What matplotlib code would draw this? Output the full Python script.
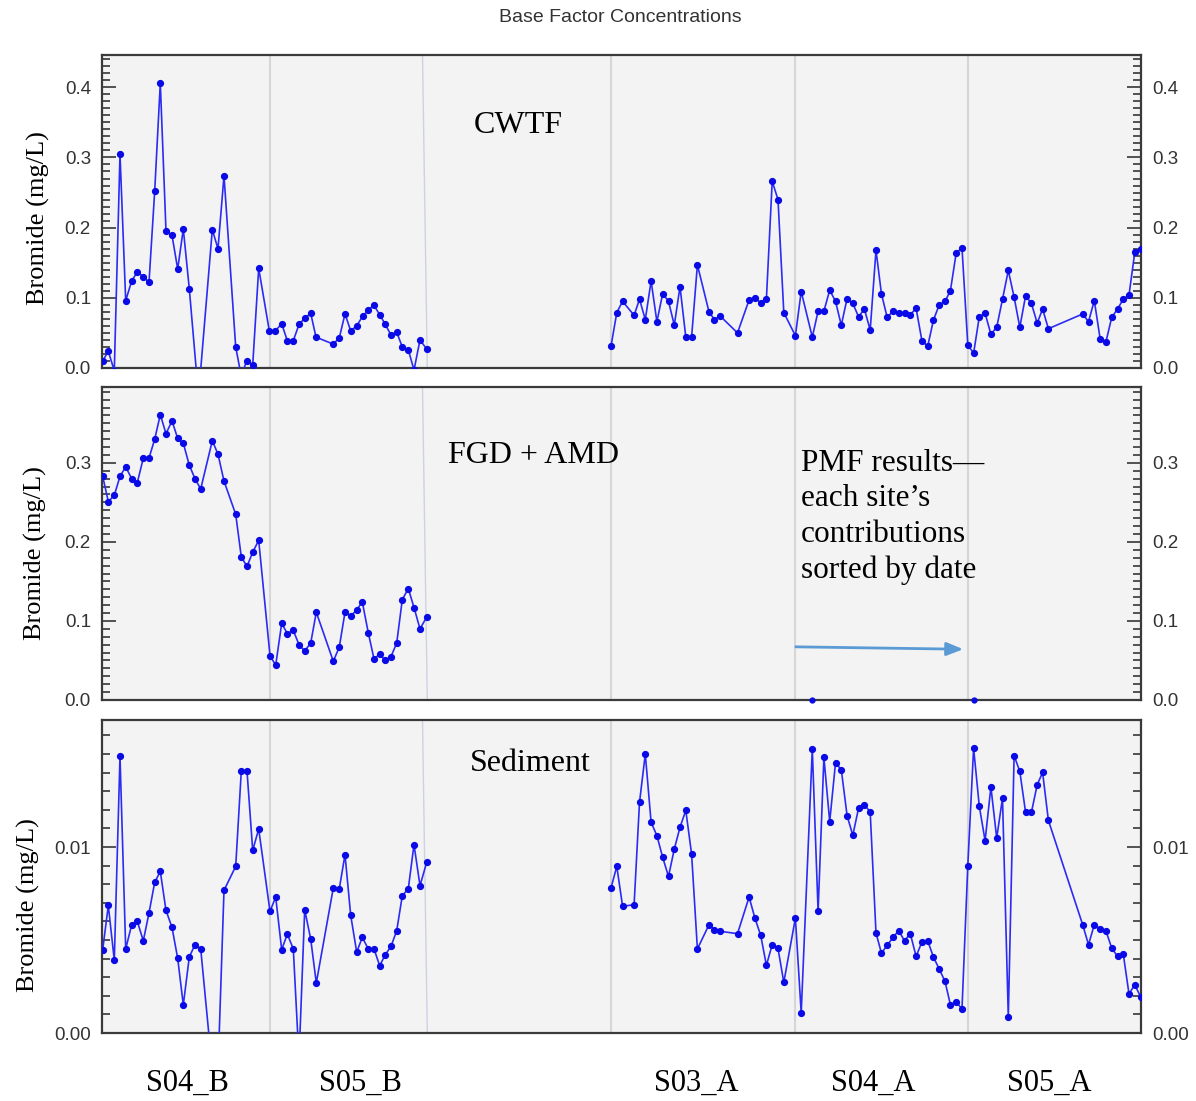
import numpy as np
import matplotlib.pyplot as plt
from matplotlib.ticker import MultipleLocator, FormatStrFormatter

# sample positions (along the date-sorted axis) and factor values, mg/L
# "_B" sites (S04_B, S05_B) -- left block
pos_b_cwtf = [102.7, 108.3, 114.3, 120.0, 125.7, 131.7, 137.3, 143.3, 149.0, 154.7,
              160.3, 166.0, 172.0, 177.7, 183.3, 189.3, 198.5, 212.3, 218.0, 224.0,
              235.7, 241.3, 246.7, 252.7, 258.7, 269.3, 275.3, 281.7, 287.3, 293.3,
              299.0, 304.7, 310.7, 316.0, 333.3, 339.3, 345.0, 350.7, 356.7, 362.7,
              368.3, 373.7, 379.7, 385.3, 391.0, 396.7, 402.3, 408.3, 414.0, 420.0, 426.7]
cwtf_b = [0.010, 0.024, -0.004, 0.305, 0.096, 0.124, 0.137, 0.130, 0.122, 0.252,
          0.406, 0.195, 0.189, 0.141, 0.198, 0.113, -0.040, 0.197, 0.170, 0.274,
          0.030, -0.012, 0.0105, 0.004, 0.142, 0.053, 0.053, 0.063, 0.039, 0.039,
          0.062, 0.071, 0.078, 0.044, 0.034, 0.043, 0.077, 0.053, 0.060, 0.074,
          0.082, 0.090, 0.076, 0.062, 0.047, 0.051, 0.030, 0.026, -0.003, 0.040, 0.027]

pos_b = [102.7, 108.3, 114.3, 120.0, 125.7, 131.7, 137.3, 143.3, 149.0, 154.7,
         160.3, 166.0, 172.0, 177.7, 183.3, 189.3, 195.0, 200.7, 212.3, 218.0,
         224.0, 235.7, 241.3, 247.0, 252.7, 258.7, 270.0, 275.7, 281.7, 287.3,
         293.3, 299.0, 304.7, 310.7, 316.3, 333.3, 339.3, 345.0, 350.7, 356.7,
         362.3, 368.3, 374.0, 379.7, 385.3, 391.0, 396.7, 402.3, 408.3, 414.0, 420.0, 426.7]
fgd_b = [0.283, 0.251, 0.259, 0.283, 0.295, 0.280, 0.275, 0.306, 0.306, 0.330,
         0.361, 0.337, 0.353, 0.331, 0.325, 0.297, 0.280, 0.267, 0.328, 0.311,
         0.277, 0.235, 0.181, 0.169, 0.187, 0.202, 0.056, 0.044, 0.097, 0.084,
         0.088, 0.070, 0.062, 0.072, 0.111, 0.049, 0.067, 0.111, 0.106, 0.114,
         0.124, 0.085, 0.052, 0.058, 0.050, 0.055, 0.072, 0.127, 0.141, 0.117, 0.090, 0.105]
sed_b = [0.00448, 0.00686, 0.00391, 0.01487, 0.00452, 0.00582, 0.00600, 0.00496, 0.00645, 0.00810,
         0.00869, 0.00659, 0.00568, 0.00401, 0.00151, 0.00409, 0.00475, 0.00453, -0.0020, -0.0020,
         0.00767, 0.00896, 0.01409, 0.01409, 0.00982, 0.01097, 0.00654, 0.00731, 0.00448, 0.00532,
         0.00452, -0.0014, 0.00663, 0.00505, 0.00269, 0.00780, 0.00776, 0.00959, 0.00633, 0.00435,
         0.00514, 0.00452, 0.00452, 0.00362, 0.00421, 0.00466, 0.00550, 0.00738, 0.00776, 0.01013,
         0.00792, 0.00918]

# "_A" sites (S03_A, S04_A, S05_A) -- right block
pos_a = [611.0, 616.8, 622.6, 634.1, 639.5, 645.3, 651.1, 656.9, 662.7, 668.5,
         674.3, 680.0, 685.8, 691.6, 697.4, 709.0, 714.4, 720.2, 737.5, 749.1,
         754.9, 760.7, 766.4, 772.2, 778.0, 783.8, 795.4, 801.2, 812.3, 818.1,
         823.9, 829.7, 835.5, 841.3, 847.1, 852.8, 858.6, 864.4, 870.2, 876.0,
         881.4, 887.2, 893.0, 898.7, 904.5, 910.3, 916.1, 921.9, 927.7, 933.4,
         939.2, 945.0, 950.4, 956.2, 962.0, 967.8, 973.6, 979.3, 985.1, 990.9,
         996.7, 1002.5, 1008.3, 1014.1, 1019.8, 1025.6, 1031.4, 1037.2, 1042.6, 1048.4,
         1082.7, 1088.5, 1094.3, 1100.1, 1105.9, 1111.7, 1117.5, 1123.2, 1129.0, 1134.8, 1140.6]
cwtf_a = [0.031, 0.079, 0.095, 0.075, 0.098, 0.069, 0.124, 0.066, 0.106, 0.095,
          0.061, 0.116, 0.044, 0.044, 0.147, 0.080, 0.069, 0.074, 0.050, 0.097,
          0.100, 0.093, 0.098, 0.266, 0.240, 0.079, 0.046, 0.109, 0.044, 0.081,
          0.081, 0.111, 0.095, 0.061, 0.099, 0.092, 0.073, 0.084, 0.054, 0.168,
          0.106, 0.072, 0.081, 0.078, 0.078, 0.076, 0.085, 0.039, 0.031, 0.068,
          0.090, 0.095, 0.110, 0.164, 0.171, 0.033, 0.021, 0.073, 0.078, 0.048,
          0.058, 0.098, 0.139, 0.101, 0.058, 0.103, 0.092, 0.064, 0.084, 0.056,
          0.077, 0.066, 0.096, 0.042, 0.037, 0.072, 0.084, 0.098, 0.104, 0.165, 0.169]
sed_a = [0.00780, 0.00896, 0.00681, 0.00690, 0.01240, 0.01500, 0.01133, 0.01061, 0.00944, 0.00842,
         0.00989, 0.01106, 0.01197, 0.00962, 0.00452, 0.00582, 0.00556, 0.00547, 0.00534, 0.00731,
         0.00618, 0.00525, 0.00364, 0.00475, 0.00455, 0.00272, 0.00618, 0.00108, 0.01527, 0.00654,
         0.01482, 0.01136, 0.01452, 0.01416, 0.01168, 0.01063, 0.01210, 0.01228, 0.01188, 0.00538,
         0.00430, 0.00471, 0.00514, 0.00550, 0.00496, 0.00534, 0.00412, 0.00489, 0.00496, 0.00409,
         0.00344, 0.00278, 0.00152, 0.00167, 0.00129, 0.00900, 0.01532, 0.01219, 0.01034, 0.01323,
         0.01048, 0.01263, 0.00086, 0.01491, 0.01407, 0.01186, 0.01186, 0.01335, 0.01401, 0.01143,
         0.00582, 0.00475, 0.00582, 0.00561, 0.00550, 0.00457, 0.00412, 0.00427, 0.00210, 0.00260, 0.00194]
pos_a_fgd = [812.3, 973.6]
fgd_a = [0.0, 0.0]

site_names = ['S04_B', 'S05_B', 'S03_A', 'S04_A', 'S05_A']
site_centers = [187, 360, 696, 873, 1049]
site_breaks = [270, 611, 795, 968]

SERIF = 'Liberation Serif'
SANS = 'Liberation Sans'
LINE = '#2b2bf5'
DOT = '#0a0ae6'

W, H = 1196, 1101
fig = plt.figure(figsize=(W / 100, H / 100), dpi=100)


def box(top, bottom):
    return [102 / W, 1 - bottom / H, (1141 - 102) / W, (bottom - top) / H]


ax1 = fig.add_axes(box(55, 368))
ax2 = fig.add_axes(box(387, 700))
ax3 = fig.add_axes(box(720, 1033))

panels = [(ax1, 0.446, 0.1, 0.01, '%.1f', (-0.050, 0.48)),
          (ax2, 0.396, 0.1, 0.01, '%.1f', (-0.053, 0.47)),
          (ax3, 0.01683, 0.01, 0.001, '%.2f', (-0.060, 0.41))]

for ax, ytop, major, minor, fmt, labpos in panels:
    ax.set_facecolor('#f3f3f3')
    ax.set_xlim(102, 1141)
    ax.set_ylim(0, ytop)
    for b in site_breaks:
        ax.axvline(b, color='#d6d6d6', lw=1.5, zorder=1)
    ax.plot([422.5, 427.3], [ytop, 0], color='#cdd2e2', lw=1, zorder=1)
    ax.yaxis.set_major_locator(MultipleLocator(major))
    ax.yaxis.set_minor_locator(MultipleLocator(minor))
    ax.yaxis.set_major_formatter(FormatStrFormatter(fmt))
    ax.set_xticks([])
    ax.tick_params(axis='y', which='both', direction='in', left=True, right=True,
                   labelleft=True, labelright=True, color='#444444', width=1.3,
                   labelsize=13.5, labelcolor='#333333', pad=8)
    ax.tick_params(axis='y', which='major', length=10)
    ax.tick_params(axis='y', which='minor', length=5.5)
    for lab in ax.get_yticklabels():
        lab.set_family(SANS)
    for sp in ax.spines.values():
        sp.set_color('#3a3a3a')
        sp.set_linewidth(1.6)
    ax.set_ylabel('Bromide (mg/L)', family=SERIF, fontsize=19)
    ax.yaxis.set_label_coords(*labpos)

style = dict(color=LINE, lw=1.2, marker='o', ms=4.2, mfc=DOT, mec=DOT, zorder=3)

ax1.plot(pos_b_cwtf, cwtf_b, **style)
ax1.plot(pos_a, cwtf_a, **style)
ax2.plot(pos_b, fgd_b, **style)
ax2.plot(pos_a_fgd, fgd_a, 'o', ms=3.5, color=DOT, zorder=3, clip_on=False)
ax3.plot(pos_b, sed_b, **style)
ax3.plot(pos_a, sed_a, **style)

ax1.text(518, 0.775, 'CWTF', transform=ax1.get_xaxis_transform(),
         family=SERIF, fontsize=23, ha='center', va='center')
ax2.text(533, 0.780, 'FGD + AMD', transform=ax2.get_xaxis_transform(),
         family=SERIF, fontsize=23, ha='center', va='center')
ax3.text(530, 0.862, 'Sediment', transform=ax3.get_xaxis_transform(),
         family=SERIF, fontsize=23, ha='center', va='center')

ax2.text(801, 0.803, 'PMF results\u2014\neach site\u2019s\ncontributions\nsorted by date',
         transform=ax2.get_xaxis_transform(), family=SERIF, fontsize=22.5,
         ha='left', va='top', linespacing=1.3)
ax2.annotate('', xy=(966, 0.162), xytext=(793, 0.170),
             xycoords=('data', 'axes fraction'), textcoords=('data', 'axes fraction'),
             arrowprops=dict(arrowstyle='-|>,head_length=1.0,head_width=0.4',
                             color='#5b9bd5', lw=2))

for name, cx in zip(site_names, site_centers):
    ax3.text(cx, -0.16, name, transform=ax3.get_xaxis_transform(),
             family=SERIF, fontsize=22, ha='center', va='center')

fig.text(620 / W, 1 - 17 / H, 'Base Factor Concentrations', family=SANS,
         fontsize=14, color='#333333', ha='center', va='center')

fig.savefig('out.png', dpi=100, facecolor='white')
